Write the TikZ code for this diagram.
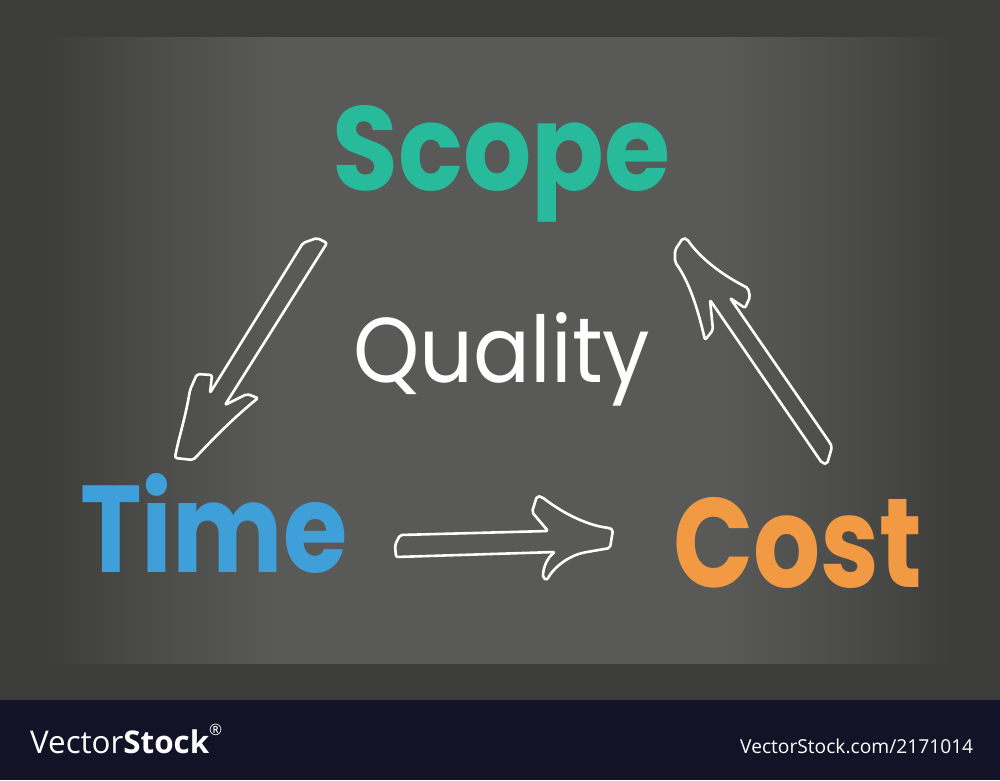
\documentclass[tikz,border=0pt]{standalone}
\usepackage{fontspec}
\setmainfont{Poppins}
\newfontfamily\wmfont{Open Sans}
\definecolor{outerbg}{HTML}{3C3C3A}
\definecolor{boardmid}{HTML}{4B4B49}
\definecolor{boardlight}{HTML}{595957}
\definecolor{barbg}{HTML}{121326}
\definecolor{scopec}{HTML}{27BB9B}
\definecolor{timec}{HTML}{3F9FD8}
\definecolor{costc}{HTML}{F29A43}
\pgfdeclarehorizontalshading{board}{100bp}{color(0bp)=(outerbg); color(27bp)=(outerbg); color(32.5bp)=(boardmid); color(39bp)=(boardlight); color(61bp)=(boardlight); color(67.5bp)=(boardmid); color(73bp)=(outerbg); color(100bp)=(outerbg)}
\tikzset{
  chalkarrow/.style={draw=white, line width=2.6pt, line join=round, rounded corners=2pt},
  word/.style={inner sep=0pt, anchor=base west}
}
\begin{document}
\begin{tikzpicture}[x=1pt,y=-1pt]
\useasboundingbox (0,0) rectangle (1000,780);
\fill[outerbg] (0,0) rectangle (1000,700);
\shade[shading=board] (0,37) rectangle (1000,663);
\fill[barbg] (0,700) rectangle (1000,780);
% words
\node[word, text=scopec] (scope) at (332,190) {\resizebox{338pt}{85pt}{\bfseries Scope}};
\node[word, text=white] (quality) at (353,382) {\resizebox{297pt}{70pt}{Quality}};
\node[word, text=timec] (time) at (80,572) {\resizebox{267pt}{99pt}{\bfseries Time}};
\node[word, text=costc] (cost) at (673,587) {\resizebox{249pt}{90pt}{\bfseries Cost}};
% arrow scope -> time
\draw[chalkarrow] (303,243) -- (210,393) -- (212,375) -- (197,374) -- (190,390)
  .. controls (185,420) and (178,440) .. (175,458) -- (193,460)
  .. controls (203,450) and (225,425) .. (258,398) -- (247,394) -- (225,405)
  -- (327,243) -- (317,238) -- cycle;
% arrow time -> cost
\draw[chalkarrow] (400,535) -- (548,531) -- (532,512) -- (537,496) -- (542,497)
  .. controls (565,515) and (590,526) .. (610,528) -- (613,530) -- (610,548) -- (587,552)
  .. controls (566,556) and (552,570) .. (547,580) -- (543,578)
  .. controls (543,568) and (547,558) .. (555,552) -- (396,557) -- (395,545) -- cycle;
% arrow cost -> scope
\draw[chalkarrow] (683,238) -- (675,250) -- (675,262)
  .. controls (690,283) and (698,310) .. (705,340) -- (713,330) -- (710,300)
  -- (822,463) -- (827,464) -- (832,447) -- (830,443) -- (730,298) -- (745,308) -- (750,297) -- (748,288)
  .. controls (722,275) and (700,258) .. (687,239) -- cycle;
% watermark
\node[word, text=white] (wmleft) at (30,753) {\resizebox{192pt}{!}{\wmfont Vector\textbf{Stock}\raisebox{0.55em}{\tiny\textregistered}}};
\node[word, text=white] (wmright) at (740,753) {\resizebox{233pt}{!}{\wmfont VectorStock.com/2171014}};
\end{tikzpicture}
\end{document}
